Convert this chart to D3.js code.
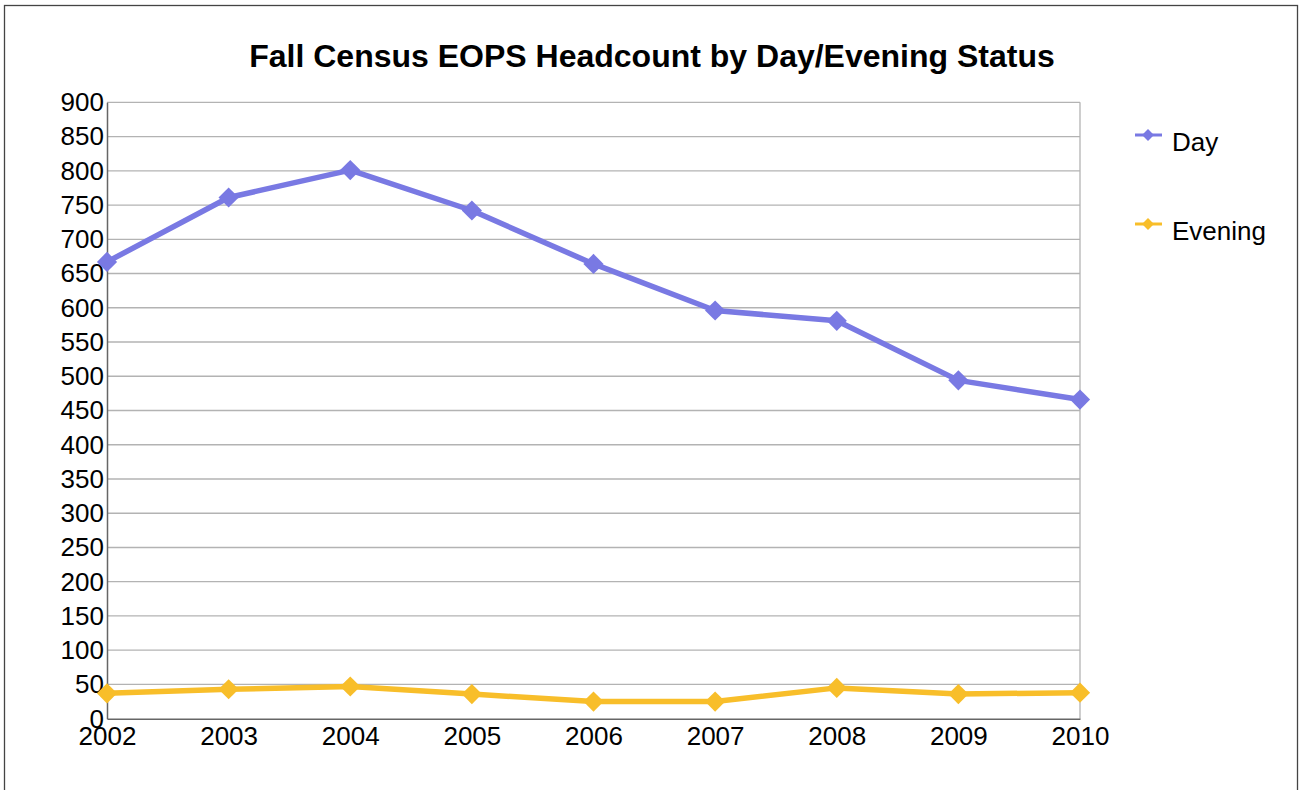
<!DOCTYPE html>
<html>
<head>
<meta charset="utf-8">
<script src="https://cdn.jsdelivr.net/npm/d3@7"></script>
<style>
  html, body { margin: 0; padding: 0; background: #fff; }
  svg { display: block; font-family: "Liberation Sans", Arial, sans-serif; }
</style>
</head>
<body>
<svg id="chart" width="1302" height="790"></svg>
<script>
const years = ["2002", "2003", "2004", "2005", "2006", "2007", "2008", "2009", "2010"];
const dayValues = [667, 761, 801, 742, 664, 596, 581, 494, 466];
const eveningValues = [37, 43, 47, 36, 25, 25, 45, 36, 38];
const yTicks = [0, 50, 100, 150, 200, 250, 300, 350, 400, 450, 500, 550, 600, 650, 700, 750, 800, 850, 900];
const seriesNames = ["Day", "Evening"];
const seriesColors = ["#7979e3", "#f8be2a"];

const svg = d3.select("#chart");
const plot = { left: 107, right: 1080, top: 102.3, bottom: 718.7 };

// outer frame
svg.append("rect")
  .attr("x", 4.5).attr("y", 5.5)
  .attr("width", 1293).attr("height", 800)
  .attr("fill", "#fff").attr("stroke", "#444").attr("stroke-width", 1.3);

const x = d3.scalePoint().domain(years).range([plot.left, plot.right]);
const y = d3.scaleLinear().domain([0, 900]).range([plot.bottom, plot.top]);

// title
svg.append("text")
  .attr("x", 652).attr("y", 67)
  .attr("text-anchor", "middle")
  .attr("font-size", 32).attr("font-weight", "bold")
  .text("Fall Census EOPS Headcount by Day/Evening Status");

// gridlines
svg.append("g").selectAll("line").data(yTicks.filter(d => d > 0)).join("line")
  .attr("x1", plot.left).attr("x2", plot.right)
  .attr("y1", d => y(d)).attr("y2", d => y(d))
  .attr("stroke", "#b3b3b3").attr("stroke-width", 1.3);

// right border of plot
svg.append("line")
  .attr("x1", plot.right).attr("x2", plot.right)
  .attr("y1", plot.top).attr("y2", plot.bottom)
  .attr("stroke", "#b3b3b3").attr("stroke-width", 1.3);

// y axis
const yAxis = d3.axisLeft(y).tickValues(yTicks).tickSize(0).tickPadding(3);
const gy = svg.append("g").attr("transform", `translate(${plot.left},0)`).call(yAxis);
gy.select(".domain").attr("stroke", "#666").attr("stroke-width", 1.5);
gy.selectAll("text").attr("font-size", 26).attr("fill", "#000")
  .attr("font-family", "Liberation Sans, Arial, sans-serif").attr("dy", "0.32em");

// x axis
const xAxis = d3.axisBottom(x).tickSize(0).tickPadding(8);
const gx = svg.append("g").attr("transform", `translate(0,${plot.bottom})`).call(xAxis);
gx.select(".domain").attr("stroke", "#666").attr("stroke-width", 1.5);
gx.selectAll("text").attr("font-size", 26).attr("fill", "#000")
  .attr("font-family", "Liberation Sans, Arial, sans-serif");

// lines
const line = d3.line().x((d, i) => x(years[i])).y(d => y(d));
const diamond = d3.symbol().type(d3.symbolDiamond2).size(260);
const allSeries = [dayValues, eveningValues];

allSeries.forEach((vals, si) => {
  const g = svg.append("g");
  g.append("path").datum(vals)
    .attr("d", line)
    .attr("fill", "none")
    .attr("stroke", seriesColors[si])
    .attr("stroke-width", 5.5)
    .attr("stroke-linejoin", "round");
  g.selectAll("path.m").data(vals).join("path")
    .attr("class", "m")
    .attr("d", diamond)
    .attr("transform", (d, i) => `translate(${x(years[i])},${y(d)})`)
    .attr("fill", seriesColors[si]);
});

// legend
const legendY = [135, 224];
seriesNames.forEach((name, i) => {
  const g = svg.append("g").attr("transform", `translate(1148,${legendY[i]})`);
  g.append("line").attr("x1", -13).attr("x2", 14).attr("y1", 0).attr("y2", 0)
    .attr("stroke", seriesColors[i]).attr("stroke-width", 3);
  g.append("path").attr("d", d3.symbol().type(d3.symbolDiamond2).size(90)())
    .attr("fill", seriesColors[i]);
  g.append("text").attr("x", 24).attr("y", 16)
    .attr("font-size", 26).attr("fill", "#000").text(name);
});
</script>
</body>
</html>
